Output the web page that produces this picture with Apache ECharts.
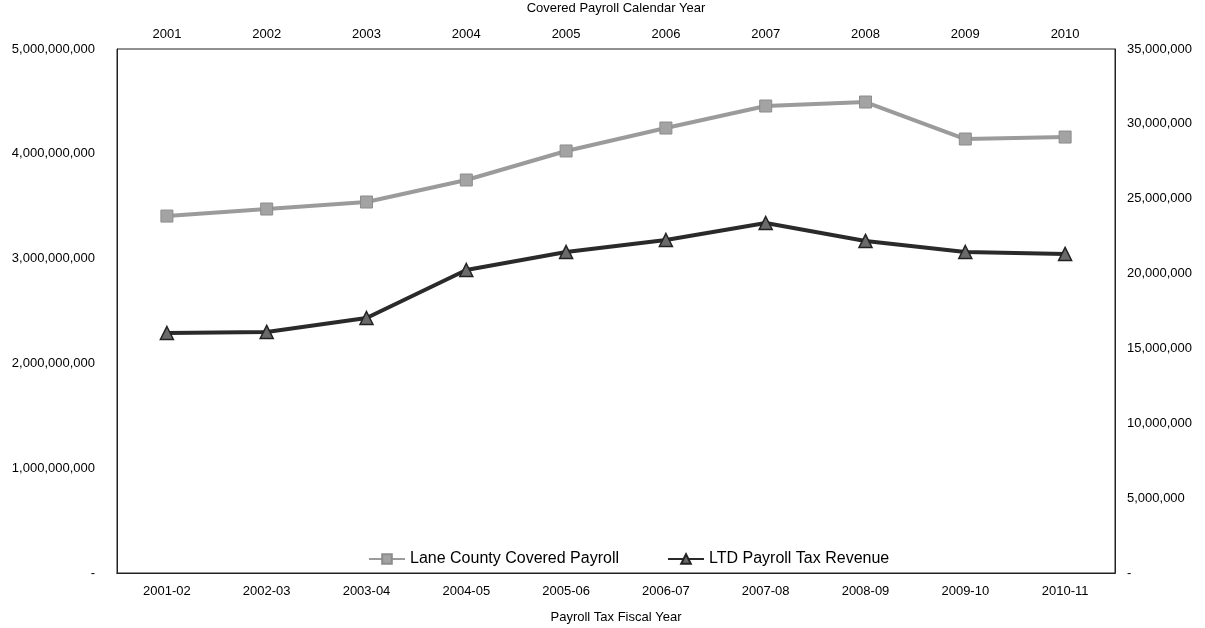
<!DOCTYPE html>
<head>
    <meta charset="utf-8">
    <title>Covered Payroll vs Payroll Tax</title>
    <script type="text/javascript" src="https://cdn.jsdelivr.net/npm/echarts@6/dist/echarts.min.js"></script>
</head>

<body style="margin:0">
<div id="main" style="width:1205px;height:628px"></div>

<script type="text/javascript">
// data
var calendarYears = ['2001', '2002', '2003', '2004', '2005', '2006', '2007', '2008', '2009', '2010'];
var fiscalYears = ['2001-02', '2002-03', '2003-04', '2004-05', '2005-06', '2006-07', '2007-08', '2008-09', '2009-10', '2010-11'];
var coveredPayroll = [3406000000, 3473000000, 3540000000, 3750000000, 4027000000, 4246000000, 4456000000, 4494000000, 4141000000, 4160000000];
var taxRevenue = [16030000, 16100000, 17030000, 20240000, 21440000, 22240000, 23380000, 22180000, 21440000, 21310000];

var myChart = echarts.init(document.getElementById('main'));

function fmt(v) {
    // zero shown as a dash, like the original
    return v === 0 ? '-' : v.toLocaleString('en-US');
}

var labelFont = {fontFamily: 'Liberation Sans, Arial, sans-serif', fontSize: 13, color: '#000'};

var option = {
    animation: false,
    backgroundColor: '#fff',
    grid: {
        left: 117, right: 90, top: 49, bottom: 55,
        outerBoundsMode: 'none',
        show: true, borderColor: '#222', borderWidth: 1
    },
    legend: {
        left: 363, top: 546,
        itemWidth: 36, itemHeight: 12, itemGap: 48,
        textStyle: {fontFamily: 'Liberation Sans, Arial, sans-serif', fontSize: 16, color: '#000'},
        data: ['Lane County Covered Payroll', 'LTD Payroll Tax Revenue']
    },
    xAxis: [
        {
            type: 'category', position: 'bottom', data: fiscalYears,
            name: 'Payroll Tax Fiscal Year', nameLocation: 'middle', nameGap: 38,
            nameTextStyle: labelFont,
            axisLine: {lineStyle: {color: '#222'}},
            axisTick: {show: false},
            axisLabel: Object.assign({margin: 12}, labelFont)
        },
        {
            type: 'category', position: 'top', data: calendarYears,
            name: 'Covered Payroll Calendar Year', nameLocation: 'middle', nameGap: 34,
            nameTextStyle: labelFont,
            axisLine: {lineStyle: {color: '#222'}},
            axisTick: {show: false},
            axisLabel: Object.assign({margin: 8}, labelFont)
        }
    ],
    yAxis: [
        {
            type: 'value', position: 'left', min: 0, max: 5000000000, interval: 1000000000,
            axisLine: {show: true, lineStyle: {color: '#222'}},
            axisTick: {show: false},
            splitLine: {show: false},
            axisLabel: Object.assign({margin: 22, formatter: fmt}, labelFont)
        },
        {
            type: 'value', position: 'right', min: 0, max: 35000000, interval: 5000000,
            axisLine: {show: true, lineStyle: {color: '#222'}},
            axisTick: {show: false},
            splitLine: {show: false},
            axisLabel: Object.assign({margin: 12, formatter: fmt}, labelFont)
        }
    ],
    series: [
        {
            name: 'Lane County Covered Payroll',
            type: 'line',
            xAxisIndex: 1, yAxisIndex: 0,
            data: coveredPayroll,
            symbol: 'rect', symbolSize: 12,
            lineStyle: {color: '#9b9b9b', width: 4},
            itemStyle: {color: '#a3a3a3', borderColor: '#8c8c8c', borderWidth: 1}
        },
        {
            name: 'LTD Payroll Tax Revenue',
            type: 'line',
            xAxisIndex: 0, yAxisIndex: 1,
            data: taxRevenue,
            symbol: 'triangle', symbolSize: 13,
            lineStyle: {color: '#2a2a2a', width: 4},
            itemStyle: {color: '#6a6a6a', borderColor: '#222', borderWidth: 1.5}
        }
    ]
};

myChart.setOption(option);
</script>
</body>
